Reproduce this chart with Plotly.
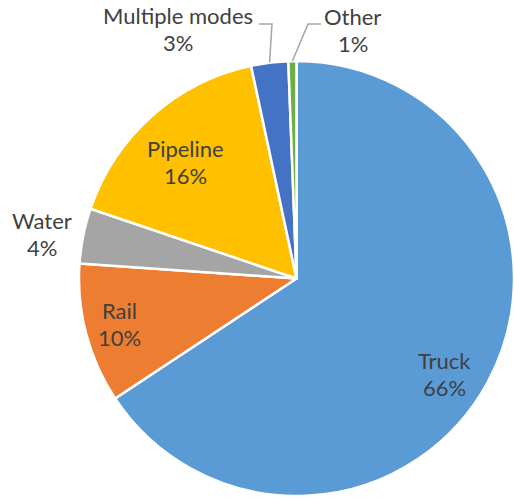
import math
import plotly.graph_objects as go

# Share of freight by transport mode
modes = ["Truck", "Rail", "Water", "Pipeline", "Multiple modes", "Other"]
shares = [65.7, 10.4, 4.1, 16.45, 2.75, 0.6]
colors = ["#5B9BD5", "#ED7D31", "#A5A5A5", "#FFC000", "#4472C4", "#70AD47"]

W, H = 514, 499
CX, CY, R = 296.5, 278.5, 217.5  # pie centre and radius in pixels
LINE_GAP = 27  # px between the two lines of a data label

FONT = dict(family="Lato, 'Open Sans', sans-serif", size=22, color="#404040")

# label placement: (angle clockwise from 12 o'clock, radius as a fraction of R)
label_polar = {
    "Truck": (123.0, 0.81),
    "Rail": (255.7, 0.84),
    "Water": (280.0, 1.19),
    "Pipeline": (316.3, 0.74),
    "Multiple modes": (334.5, 1.27),
    "Other": (12.8, 1.17),
}
# leader lines for the small outer slices: elbow polar position and horizontal run (px)
leaders = {
    "Multiple modes": ((354.5, 1.176), -13),
    "Other": ((2.6, 1.171), 13),
}


def to_px(angle, rfrac):
    a = math.radians(angle)
    return CX + R * rfrac * math.sin(a), CY - R * rfrac * math.cos(a)


def px_to_paper(x, y):
    return x / W, 1 - y / H


total = sum(shares)
mid_angle = {}
acc = 0.0
for m, v in zip(modes, shares):
    span = v / total * 360
    mid_angle[m] = acc + span / 2
    acc += span

fig = go.Figure(
    go.Pie(
        labels=modes,
        values=shares,
        sort=False,
        direction="clockwise",
        rotation=0,
        marker=dict(colors=colors, line=dict(color="white", width=2.5)),
        textinfo="none",
        hoverinfo="label+percent",
        showlegend=False,
        domain=dict(
            x=[(CX - R) / W, min(1.0, (CX + R) / W)],
            y=[1 - (CY + R) / H, 1 - (CY - R) / H],
        ),
    )
)

annotations = []
for m, v in zip(modes, shares):
    pct = math.floor(v / total * 100 + 0.5)
    ang, rf = label_polar[m]
    lx, ly = to_px(ang, rf)
    for text, dy in ((m, -LINE_GAP / 2), (f"{pct}%", LINE_GAP / 2)):
        x, y = px_to_paper(lx, ly + dy)
        annotations.append(
            dict(
                x=x, y=y, xref="paper", yref="paper", text=text,
                showarrow=False, xanchor="center", yanchor="middle",
                font=FONT,
            )
        )

shapes = []
for m, ((ea, er), run) in leaders.items():
    ex, ey = to_px(ea, er)
    sx, sy = ex + run, ey
    tx, ty = to_px(mid_angle[m], 1.0)
    pts = [(sx, sy), (ex, ey), (tx, ty)]
    path = "M " + " L ".join(
        f"{px_to_paper(px, py)[0]},{px_to_paper(px, py)[1]}" for px, py in pts
    )
    shapes.append(
        dict(type="path", path=path, xref="paper", yref="paper",
             line=dict(color="#A6A6A6", width=1.5))
    )

fig.update_layout(
    width=W, height=H,
    margin=dict(l=0, r=0, t=0, b=0),
    paper_bgcolor="white", plot_bgcolor="white",
    annotations=annotations, shapes=shapes,
)

fig.write_html("out.html")
